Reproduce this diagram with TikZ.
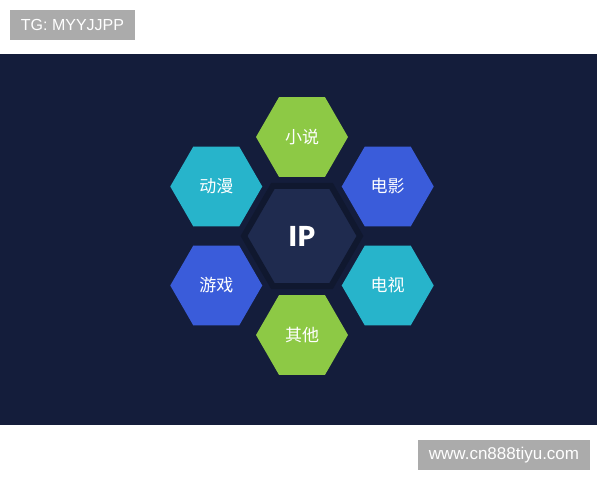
\documentclass[tikz,border=0pt]{standalone}
\usepackage{fontspec}
\setmainfont{Liberation Sans}
\newfontfamily\cjk{Noto Sans CJK SC}
\usetikzlibrary{shapes.geometric}
\definecolor{panelblue}{HTML}{141D3B}
\definecolor{ipfill}{HTML}{1F2B4F}
\definecolor{ipedge}{HTML}{10182F}
\definecolor{limegreen}{HTML}{8DC945}
\definecolor{tealblue}{HTML}{27B4CB}
\definecolor{royalblue}{HTML}{3A5CDA}
\definecolor{taggray}{HTML}{ABABAB}
\tikzset{
  hexa/.style={regular polygon, regular polygon sides=6, minimum size=92,
    inner sep=0pt, outer sep=0pt, text=white, font=\cjk\fontsize{17}{17}\selectfont},
  ipcell/.style={hexa, minimum size=116, fill=ipfill, draw=ipedge, line width=6pt,
    font=\cjk\bfseries\fontsize{27}{27}\selectfont},
  tag/.style={fill=taggray, text=white, inner sep=0pt, outer sep=0pt}
}
\begin{document}
\begin{tikzpicture}[x=1pt,y=1pt]
  \useasboundingbox (0,0) rectangle (600,480);
  \fill[panelblue] (0,55) rectangle (597,426);
  \node[tag, minimum width=125, minimum height=30,
    font=\fontsize{16}{16}\selectfont] (tg) at (72.5,455) {TG: MYYJJPP};
  \node[tag, minimum width=172, minimum height=30,
    font=\fontsize{17}{17}\selectfont] (site) at (504,25) {www.cn888tiyu.com};
  \node[ipcell] (ip) at (302,244) {IP};
  \path (ip.center)
    +(90:99) node[hexa, fill=limegreen] (novel){小说}
    +(150:99) node[hexa, fill=tealblue] (anime){动漫}
    +(30:99) node[hexa, fill=royalblue] (film){电影}
    +(210:99) node[hexa, fill=royalblue] (game){游戏}
    +(330:99) node[hexa, fill=tealblue] (tv){电视}
    +(270:99) node[hexa, fill=limegreen] (other){其他};
\end{tikzpicture}
\end{document}
